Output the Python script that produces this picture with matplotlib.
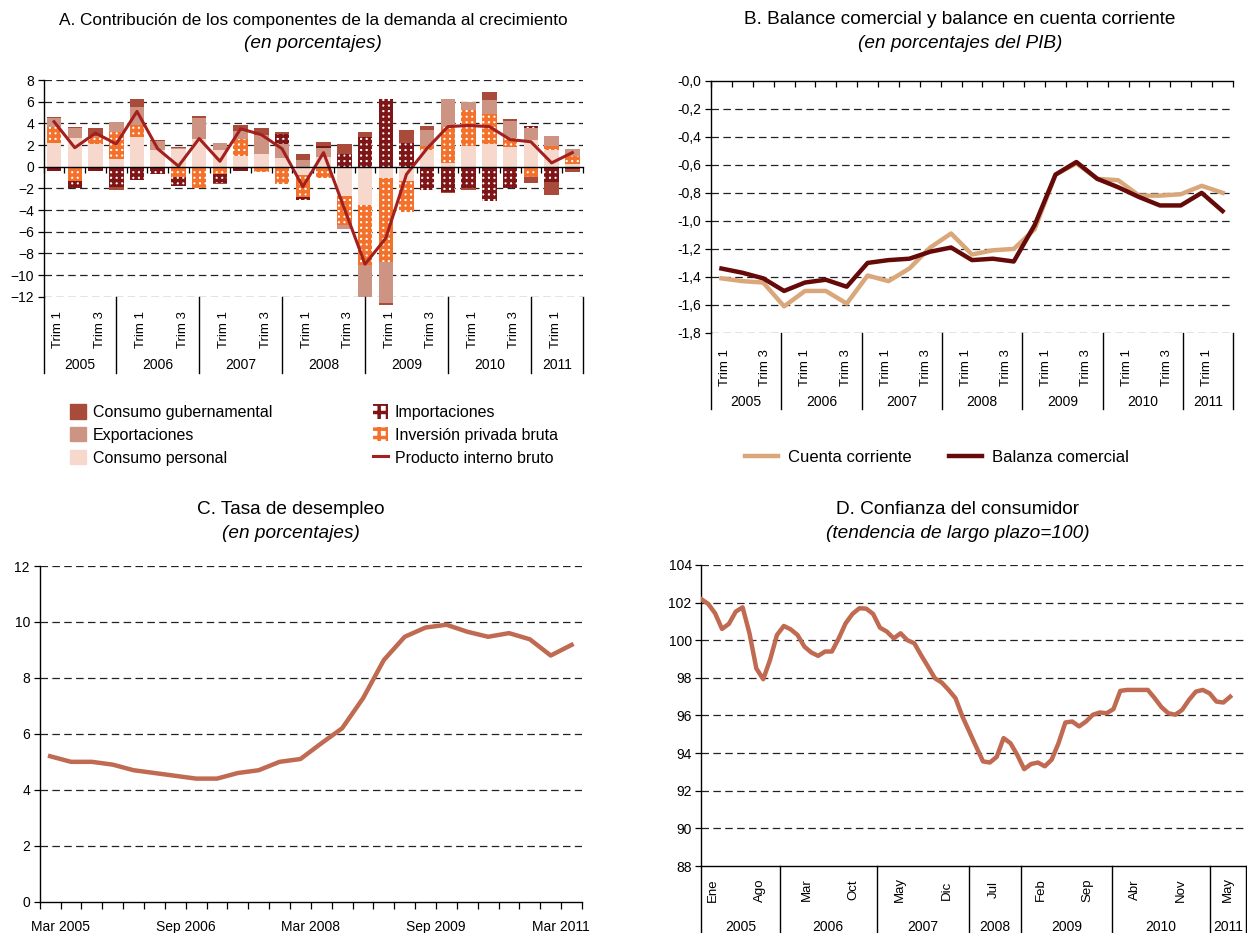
import numpy as np
import matplotlib.pyplot as plt
from matplotlib.lines import Line2D
from matplotlib.patches import Patch

plt.rcParams['font.family'] = ['Liberation Sans', 'DejaVu Sans']
plt.rcParams['hatch.linewidth'] = 2.5

# ---------- A. Contribución de los componentes de la demanda (2005 T1 - 2011 T2)
consumo_personal = [2.15, 2.68, 2.09, 0.68, 2.77, 1.54, 1.63, 2.55, 1.55, 1.02, 1.14, 0.77, -0.77,
                    0.92, -2.68, -3.54, -1.08, -1.30, 1.54, 0.30, 1.90, 2.06, 1.85, 2.46, 1.54, 0.25]
inversion = [1.55, -1.32, 0.68, 2.49, 1.08, 0.00, -0.92, -2.00, -0.70, 1.53, -0.52, -1.63, -2.00,
             -1.02, -2.70, -5.54, -7.75, -2.85, 0.40, 3.40, 3.33, 2.77, 0.77, -0.92, 0.36, 0.70]
exportaciones = [0.77, 0.92, 0.05, 0.92, 1.63, 0.86, 0.12, 1.97, 0.60, 0.77, 1.78, 1.32, 0.60,
                 0.83, -0.37, -2.92, -3.77, 0.00, 1.44, 2.55, 0.77, 1.32, 1.63, 1.08, 0.96, 0.71]
importaciones = [-0.43, -0.62, -0.40, -1.85, -1.23, -0.70, -0.83, 0.00, -0.80, -0.40, 0.00, 0.89, -0.31,
                 0.19, 1.17, 2.77, 6.25, 2.15, -2.15, -2.30, -2.00, -3.17, -1.94, 0.24, -1.38, -0.20]
consumo_gub = [0.10, 0.10, 0.72, -0.30, 0.77, 0.06, 0.10, 0.13, -0.10, 0.53, 0.62, 0.25, 0.55,
               0.31, 0.89, 0.40, -0.17, 1.23, 0.37, -0.16, -0.15, 0.71, 0.15, -0.62, -1.22, -0.30]
pib = [4.15, 1.75, 3.10, 2.10, 5.10, 1.65, 0.05, 2.60, 0.50, 3.50, 2.95, 1.65, -1.85,
       1.30, -3.85, -9.00, -6.60, -0.70, 1.70, 3.70, 3.80, 3.70, 2.50, 2.30, 0.35, 1.30]
anios = ['2005', '2006', '2007', '2008', '2009', '2010', '2011']

# ---------- B. Balance comercial y cuenta corriente (2005 T1 - 2011 T1)
cuenta_corriente = [-1.41, -1.43, -1.44, -1.61, -1.50, -1.50, -1.59, -1.39, -1.43, -1.34, -1.19, -1.09,
                    -1.24, -1.21, -1.20, -1.06, -0.67, -0.59, -0.70, -0.71, -0.82, -0.82, -0.81, -0.75, -0.80]
balanza_comercial = [-1.34, -1.37, -1.41, -1.50, -1.44, -1.42, -1.47, -1.30, -1.28, -1.27, -1.22, -1.19,
                     -1.28, -1.27, -1.29, -1.03, -0.67, -0.58, -0.70, -0.76, -0.83, -0.89, -0.89, -0.80, -0.93]

# ---------- C. Tasa de desempleo (trimestral, mar 2005 - jun 2011)
desempleo = [5.2, 5.0, 5.0, 4.9, 4.7, 4.6, 4.5, 4.4, 4.4, 4.6, 4.7, 5.0, 5.1,
             5.66, 6.2, 7.27, 8.64, 9.47, 9.8, 9.9, 9.65, 9.47, 9.6, 9.38, 8.8, 9.18]
etiquetas_c = ['Mar 2005', 'Sep 2006', 'Mar 2008', 'Sep 2009', 'Mar 2011']

# ---------- D. Confianza del consumidor (mensual, ene 2005 - may 2011)
confianza = [102.18, 101.93, 101.43, 100.6, 100.87, 101.52, 101.75, 100.37, 98.5, 97.93, 98.96, 100.28,
             100.76, 100.58, 100.28, 99.66, 99.35, 99.17, 99.4, 99.4, 100.1, 100.9, 101.4, 101.7,
             101.68, 101.4, 100.67, 100.46, 100.1, 100.37, 100.0, 99.84, 99.2, 98.6, 97.98, 97.75,
             97.36, 96.92, 95.95, 95.15, 94.35, 93.56, 93.5, 93.8, 94.8, 94.53, 93.9, 93.15,
             93.42, 93.5, 93.3, 93.65, 94.53, 95.63, 95.68, 95.42, 95.68, 96.04, 96.16, 96.12,
             96.34, 97.31, 97.36, 97.36, 97.36, 97.36, 96.92, 96.44, 96.12, 96.04, 96.3, 96.83,
             97.27, 97.36, 97.18, 96.74, 96.69, 97.0]
meses_d = ['Ene', 'Ago', 'Mar', 'Oct', 'May', 'Dic', 'Jul', 'Feb', 'Sep', 'Abr', 'Nov', 'May']
ancho_anios_d = [11.4, 14.1, 13.5, 7.5, 13.3, 14.3, 5.2]

# colores
c_gub = '#A84B3B'
c_exp = '#CD9484'
c_per = '#F7D8CC'
c_imp = '#7E1517'
c_inv = '#F3712B'
c_pib = '#A3201F'
c_cc = '#D9A77A'
c_bc = '#660909'
c_linea = '#C06A52'
c_grid = '#222222'

W, H = 1247, 933
fig = plt.figure(figsize=(W / 100, H / 100), dpi=100)


def ejes_px(left, top, right, bottom):
    ax = fig.add_axes([left / W, 1 - bottom / H, (right - left) / W, (bottom - top) / H])
    ax.set_facecolor('none')
    return ax


def rejilla(ax, valores):
    for v in valores:
        ax.axhline(v, color=c_grid, lw=0.9, ls=(0, (6, 3.5)), zorder=0.5)


def sep(ax, x, y_fin):
    ax.plot([x, x], [0, y_fin], transform=ax.get_xaxis_transform(), color='black', lw=1.0, clip_on=False)


def titulo(x, y, t1, t2, tam1=13.7):
    fig.text(x / W, 1 - y / H, t1, ha='center', va='center', fontsize=tam1)
    fig.text(x / W, 1 - (y + 24) / H, t2, ha='center', va='center', fontsize=13.7, style='italic')


# ================= A =================
ax = ejes_px(43.7, 80, 582.7, 296.7)
n = len(pib)
x = np.arange(n) + 0.5
series = [(consumo_personal, c_per, None), (inversion, 'white', c_inv),
          (exportaciones, c_exp, None), (importaciones, 'white', c_imp), (consumo_gub, c_gub, None)]
base_pos = np.zeros(n)
base_neg = np.zeros(n)
for vals, fc, hc in series:
    v = np.array(vals)
    base = np.where(v >= 0, base_pos, base_neg)
    if hc is None:
        ax.bar(x, v, 0.7, bottom=base, color=fc, lw=0, zorder=2, clip_on=False)
    else:
        ax.bar(x, v, 0.7, bottom=base, facecolor=fc, edgecolor=hc, hatch='+++', lw=0, zorder=2, clip_on=False)
    base_pos += np.clip(v, 0, None)
    base_neg += np.clip(v, None, 0)
ax.plot(x, pib, color=c_pib, lw=2.2, zorder=3)
ax.set_xlim(0, n)
ax.set_ylim(-12, 8)
rejilla(ax, [8, 6, 4, 2, -2, -4, -6, -8, -10, -12])
ax.set_yticks(range(-12, 9, 2))
ax.spines['bottom'].set_position(('data', 0))
ax.spines['bottom'].set_zorder(4)
for s in ['top', 'right']:
    ax.spines[s].set_visible(False)
ax.spines['left'].set_linewidth(1.0)
ax.spines['bottom'].set_linewidth(1.0)
ax.set_xticks(range(n + 1))
ax.set_xticklabels([])
ax.tick_params(axis='x', direction='out', length=4, width=0.9)
ax.tick_params(axis='y', direction='out', length=4, width=0.9, labelsize=10, pad=3)
hA = 216.7
ax.plot([0, 0], [0, -76 / hA], transform=ax.get_xaxis_transform(), color='black', lw=1.0, clip_on=False)
seps_a = [0] + [4 * k - 0.5 for k in range(1, 7)] + [n]
for s in seps_a[1:]:
    sep(ax, s, -76 / hA)
for q in range(0, n - 1, 2):
    ax.text(q + 0.7, -33 / hA, 'Trim 1' if q % 4 == 0 else 'Trim 3', transform=ax.get_xaxis_transform(),
            rotation=90, ha='center', va='center', fontsize=9.5)
for i, a in enumerate(anios):
    ax.text((seps_a[i] + seps_a[i + 1]) / 2, -68 / hA, a, transform=ax.get_xaxis_transform(),
            ha='center', va='center', fontsize=10)
titulo(313, 20, 'A. Contribución de los componentes de la demanda al crecimiento', '(en porcentajes)', 12.4)

h_a = [Patch(color=c_gub), Patch(color=c_exp), Patch(color=c_per),
       Patch(facecolor='white', edgecolor=c_imp, hatch='++', lw=0),
       Patch(facecolor='white', edgecolor=c_inv, hatch='++', lw=0),
       Line2D([], [], color=c_pib, lw=2.2)]
l_a = ['Consumo gubernamental', 'Exportaciones', 'Consumo personal',
       'Importaciones', 'Inversión privada bruta', 'Producto interno bruto']
fig.legend(h_a, l_a, ncol=2, loc='center', bbox_to_anchor=(314 / W, 1 - 435 / H), frameon=False,
           fontsize=11.5, handlelength=1.0, handleheight=1.0, handletextpad=0.4,
           columnspacing=6.3, labelspacing=0.45)

# ================= B =================
ax = ejes_px(711, 80.7, 1233, 333)
nb = len(cuenta_corriente)
xb = np.arange(nb) + 0.5
ax.plot(xb, cuenta_corriente, color=c_cc, lw=3.2, zorder=3)
ax.plot(xb, balanza_comercial, color=c_bc, lw=3.2, zorder=4)
ax.set_xlim(0, nb)
ax.set_ylim(-1.8, 0)
rejilla(ax, [-0.2, -0.4, -0.6, -0.8, -1.0, -1.2, -1.4, -1.6, -1.8])
yt = np.round(np.arange(0, -1.81, -0.2), 1)
ax.set_yticks(yt)
ax.set_yticklabels(['-' + f'{abs(v):.1f}'.replace('.', ',') for v in yt])
for s in ['bottom', 'right']:
    ax.spines[s].set_visible(False)
ax.spines['top'].set_linewidth(1.0)
ax.spines['left'].set_linewidth(1.0)
ax.xaxis.tick_top()
ax.set_xticks(range(nb + 1))
ax.set_xticklabels([])
ax.tick_params(axis='x', direction='in', length=4, width=0.9)
ax.tick_params(axis='y', direction='out', length=4, width=0.9, labelsize=10, pad=3)
hB = 252.3
esc = nb / 26
ax.plot([0, 0], [0, -76 / hB], transform=ax.get_xaxis_transform(), color='black', lw=1.0, clip_on=False)
seps_b = [0] + [(4 * k - 0.5) * esc for k in range(1, 7)] + [nb]
for s in seps_b[1:]:
    sep(ax, s, -76 / hB)
for q in range(0, 25, 2):
    ax.text((q + 0.7) * esc, -34.5 / hB, 'Trim 1' if q % 4 == 0 else 'Trim 3',
            transform=ax.get_xaxis_transform(), rotation=90, ha='center', va='center', fontsize=9.5)
for i, a in enumerate(anios):
    ax.text((seps_b[i] + seps_b[i + 1]) / 2, -68.7 / hB, a, transform=ax.get_xaxis_transform(),
            ha='center', va='center', fontsize=10)
titulo(960, 20, 'B. Balance comercial y balance en cuenta corriente', '(en porcentajes del PIB)')
fig.legend([Line2D([], [], color=c_cc, lw=3.2), Line2D([], [], color=c_bc, lw=3.2)],
           ['Cuenta corriente', 'Balanza comercial'], ncol=2, loc='center',
           bbox_to_anchor=(937 / W, 1 - 457 / H), frameon=False, fontsize=12,
           handlelength=2.0, handletextpad=0.6, columnspacing=2.2)

# ================= C =================
ax = ejes_px(39.7, 566, 582, 901.7)
nc = len(desempleo)
xc = np.arange(nc) + 0.5
ax.plot(xc, desempleo, color=c_linea, lw=3.2, zorder=3)
ax.set_xlim(0, nc)
ax.set_ylim(0, 12)
rejilla(ax, [2, 4, 6, 8, 10, 12])
ax.set_yticks(range(0, 13, 2))
for s in ['top', 'right']:
    ax.spines[s].set_visible(False)
ax.spines['left'].set_linewidth(1.0)
ax.spines['bottom'].set_linewidth(1.0)
ax.set_xticks(range(nc + 1))
ax.set_xticklabels([])
ax.tick_params(axis='x', direction='out', length=5, width=0.9)
ax.tick_params(axis='y', direction='out', length=4, width=0.9, labelsize=10, pad=3)
hC = 335.7
for k, t in enumerate(etiquetas_c):
    ax.text(6 * k + 1, -25 / hC, t, transform=ax.get_xaxis_transform(), ha='center', va='center', fontsize=10)
titulo(291, 510, 'C. Tasa de desempleo', '(en porcentajes)')

# ================= D =================
ax = ejes_px(701.4, 565, 1246, 866)
nd = len(confianza)
xd = np.arange(nd)
ax.plot(xd, confianza, color=c_linea, lw=3.2, zorder=3)
fin_d = sum(ancho_anios_d)
ax.set_xlim(0, fin_d)
ax.set_ylim(88, 104)
rejilla(ax, [90, 92, 94, 96, 98, 100, 102, 104])
ax.set_yticks(range(88, 105, 2))
for s in ['top', 'right']:
    ax.spines[s].set_visible(False)
ax.spines['left'].set_linewidth(1.0)
ax.spines['bottom'].set_linewidth(1.0)
ax.set_xticks([])
ax.tick_params(axis='y', direction='out', length=4, width=0.9, labelsize=10, pad=3)
hD = 301
ax.plot([0, 0], [0, -67 / hD], transform=ax.get_xaxis_transform(), color='black', lw=1.0, clip_on=False)
seps_d = np.concatenate([[0], np.cumsum(ancho_anios_d)])
for s in seps_d[1:]:
    sep(ax, s, -67 / hD)
for k, m in enumerate(meses_d):
    ax.text(7 * k * 0.974 + 1.7, -24 / hD, m, transform=ax.get_xaxis_transform(),
            rotation=90, ha='center', va='center', fontsize=9.5)
for i, a in enumerate(anios):
    ax.text((seps_d[i] + seps_d[i + 1]) / 2, -60.7 / hD, a, transform=ax.get_xaxis_transform(),
            ha='center', va='center', fontsize=10)
titulo(958, 510, 'D. Confianza del consumidor', '(tendencia de largo plazo=100)')

fig.savefig('out.png', dpi=100)
